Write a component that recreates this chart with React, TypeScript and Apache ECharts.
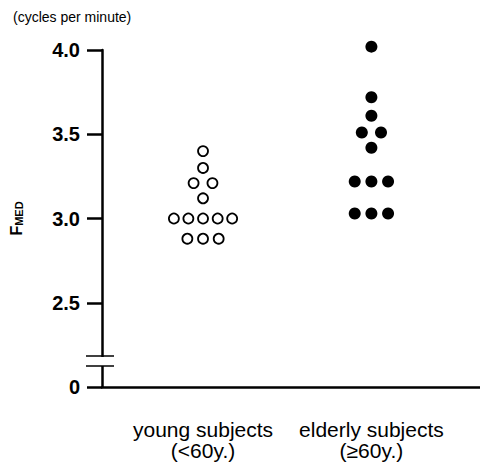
import React, { useEffect, useRef } from "react";
import * as echarts from "echarts";

// ---- data ----
const categories = ["young subjects\n(<60y.)", "elderly subjects\n(≥60y.)"];
const categoryPositions = [1, 2];
const yTickValues = [2, 2.5, 3, 3.5, 4];
const yTickLabels = ["0", "2.5", "3.0", "3.5", "4.0"];

// young subjects (open circles): FMED values and horizontal dot-plot offsets
const youngValues = [3.4, 3.3, 3.21, 3.21, 3.12, 3.0, 3.0, 3.0, 3.0, 3.0, 2.88, 2.88, 2.88];
const youngOffsets = [0, 0, -0.056, 0.056, 0, -0.173, -0.087, 0, 0.087, 0.173, -0.093, 0, 0.093];

// elderly subjects (filled circles)
const elderlyValues = [4.02, 3.72, 3.61, 3.51, 3.51, 3.42, 3.22, 3.22, 3.22, 3.03, 3.03, 3.03];
const elderlyOffsets = [0, 0, 0, -0.057, 0.057, 0, -0.099, 0, 0.099, -0.099, 0, 0.099];

const FONT = "'Liberation Sans', Arial, Helvetica, sans-serif";

export default function App() {
  const ref = useRef<HTMLDivElement>(null);

  useEffect(() => {
    if (!ref.current) return;
    const chart = echarts.init(ref.current, undefined, { renderer: "svg" });

    const youngData = youngValues.map((v, i) => [categoryPositions[0] + youngOffsets[i], v]);
    const elderlyData = elderlyValues.map((v, i) => [categoryPositions[1] + elderlyOffsets[i], v]);

    chart.setOption({
      animation: false,
      backgroundColor: "#ffffff",
      title: {
        text: "(cycles per minute)",
        left: 13,
        top: 10,
        padding: 0,
        textStyle: { fontFamily: FONT, fontSize: 14, fontWeight: "normal", color: "#000" },
      },
      grid: { left: 101, right: 0, top: 50, bottom: 77, containLabel: false },
      xAxis: {
        type: "value",
        min: 0.4,
        max: 2.645,
        axisLine: { show: true, onZero: false, lineStyle: { color: "#000", width: 2.5 } },
        axisTick: { show: false },
        splitLine: { show: false },
        axisLabel: {
          customValues: categoryPositions,
          formatter: (v: number) => categories[Math.round(v) - 1] ?? "",
          fontFamily: FONT,
          fontSize: 21,
          lineHeight: 21,
          color: "#000",
          margin: 32,
          align: "center",
        },
      },
      yAxis: {
        type: "value",
        min: 2,
        max: 4,
        interval: 0.5,
        axisLine: { show: true, lineStyle: { color: "#000", width: 2.5 } },
        axisTick: { show: true, length: 15, lineStyle: { color: "#000", width: 2.5 } },
        splitLine: { show: false },
        axisLabel: {
          formatter: (v: number) => {
            const idx = yTickValues.findIndex((t) => Math.abs(t - v) < 1e-6);
            return idx >= 0 ? yTickLabels[idx] : "";
          },
          fontFamily: FONT,
          fontSize: 20,
          fontWeight: "bold",
          color: "#000",
          margin: 22,
        },
        name: "{f|F}{s|MED}",
        nameLocation: "middle",
        nameRotate: 90,
        nameGap: 78,
        nameTextStyle: {
          rich: {
            f: { fontFamily: FONT, fontSize: 16, fontWeight: "bold", color: "#000", verticalAlign: "bottom", lineHeight: 16 },
            s: { fontFamily: FONT, fontSize: 11, fontWeight: "bold", color: "#000", verticalAlign: "bottom", lineHeight: 16 },
          },
        },
      },
      graphic: [
        { type: "rect", shape: { x: 96, y: 357, width: 10, height: 9 }, style: { fill: "#fff" }, z: 100 },
        { type: "line", shape: { x1: 86, y1: 356, x2: 114, y2: 356 }, style: { stroke: "#000", lineWidth: 1.5 }, z: 101 },
        { type: "line", shape: { x1: 86, y1: 366, x2: 114, y2: 366 }, style: { stroke: "#000", lineWidth: 1.5 }, z: 101 },
      ],
      series: [
        {
          type: "scatter",
          data: youngData,
          clip: false,
          symbol: "circle",
          symbolSize: 10,
          itemStyle: { color: "#fff", borderColor: "#000", borderWidth: 1.8, opacity: 1 },
        },
        {
          type: "scatter",
          data: elderlyData,
          clip: false,
          symbol: "circle",
          symbolSize: 12,
          itemStyle: { color: "#000", opacity: 1 },
        },
      ],
    });

    return () => chart.dispose();
  }, []);

  return (
    <div
      ref={ref}
      style={{ position: "absolute", left: 0, top: 0, width: 480, height: 464, background: "#fff" }}
    />
  );
}
